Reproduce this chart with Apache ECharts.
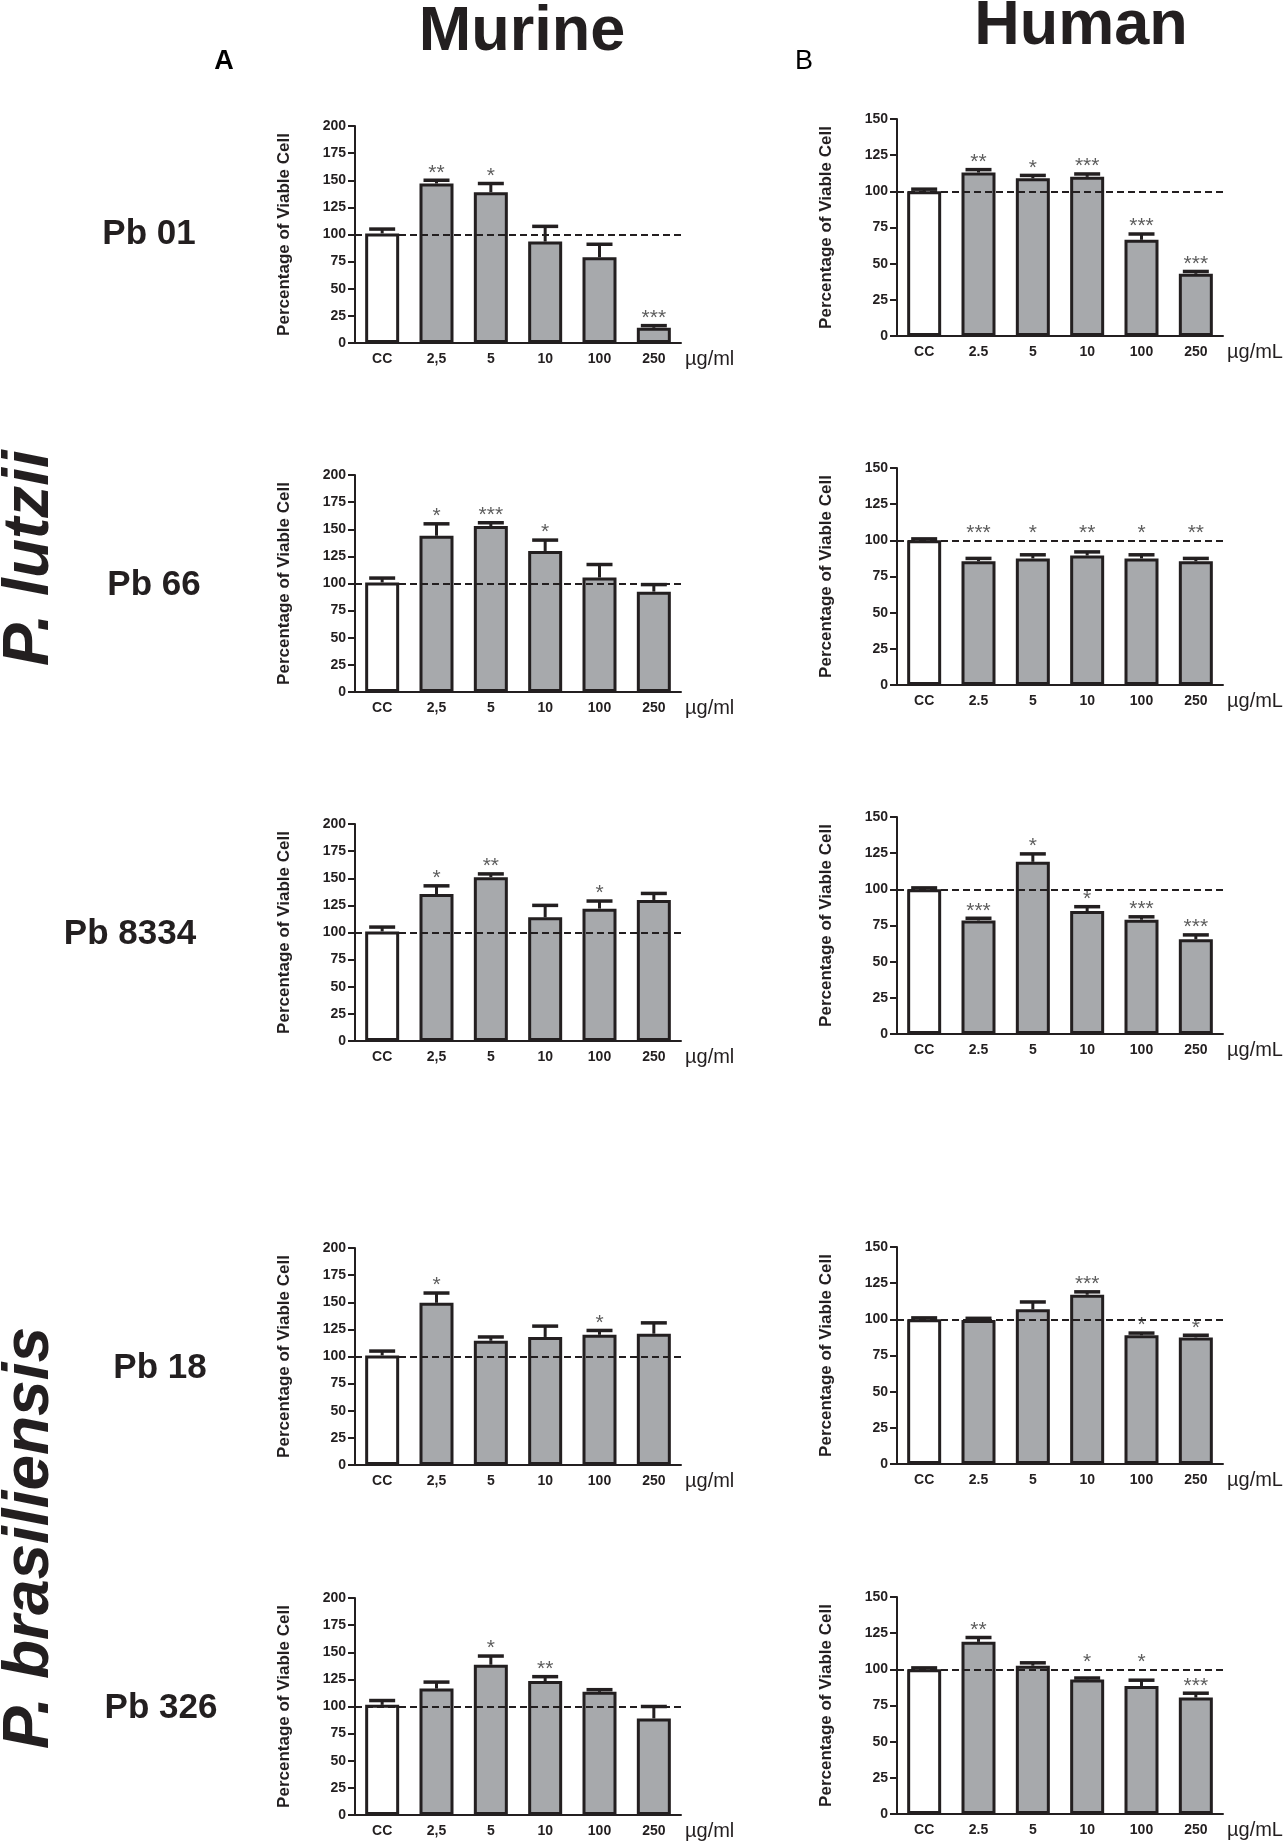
<!DOCTYPE html>
<html lang="en">
<head>
<meta charset="UTF-8">
<title>Percentage of Viable Cell</title>
<style>
  html, body { margin: 0; padding: 0; background: #fff; }
  #main { width: 1286px; height: 1842px; }
</style>
</head>
<body>
<div id="main"></div>
<script src="https://cdn.jsdelivr.net/npm/echarts@6/dist/echarts.min.js"></script>
<script>
// categories
var murineCats = ['CC', '2,5', '5', '10', '100', '250'];
var humanCats = ['CC', '2.5', '5', '10', '100', '250'];
var strains = ['Pb 01', 'Pb 66', 'Pb 8334', 'Pb 18', 'Pb 326'];

// murine macrophages, one row per strain
var murMean = [
  [101, 147, 139, 93.5, 79, 14],
  [101, 144, 153, 130, 105.5, 92.5],
  [101, 135.5, 151, 114, 122, 130],
  [101, 149.5, 114.5, 118, 120, 121],
  [101.5, 116.5, 138.5, 123.5, 113.5, 89]
];
var murSd = [
  [4, 3, 8, 14, 12, 2],
  [4, 11, 3, 10, 12, 6.5],
  [4, 7.5, 3, 11, 7, 6],
  [4, 9, 3.5, 10, 4, 10],
  [4, 6, 8, 4, 2, 11]
];
var murStars = [
  ['', '**', '*', '', '', '***'],
  ['', '*', '***', '*', '', ''],
  ['', '*', '**', '', '*', ''],
  ['', '*', '', '', '*', ''],
  ['', '', '*', '**', '', '']
];

// human cells
var humMean = [
  [100, 113, 109, 110, 66.5, 43],
  [100, 85.5, 87.5, 89.5, 87.5, 85.5],
  [100, 78.5, 119, 85, 79, 65.5],
  [100, 99.5, 107, 117, 89, 87.5],
  [100, 119, 102.5, 93, 88.5, 80.5]
];
var humSd = [
  [1.5, 2, 2, 2, 4, 1.6],
  [1, 2, 2.5, 2.5, 2.5, 2],
  [1, 1.5, 5.5, 3, 2, 3],
  [1, 1.2, 5, 2, 1.5, 1.5],
  [1, 3, 2, 1, 4, 3]
];
var humStars = [
  ['', '**', '*', '***', '***', '***'],
  ['', '***', '*', '**', '*', '**'],
  ['', '***', '*', '*', '***', '***'],
  ['', '', '', '***', '*', '*'],
  ['', '**', '', '*', '*', '***']
];
// stars that sit on the 100% line instead of over the error bar
var humStarOnLine = [[], [1, 2, 3, 4, 5], [], [], [3, 4]];

var murTicks = 200, humTicks = 150, tickStep = 25, refLine = 100;

var INK = '#231f20';
var GREY = '#a7a9ac';
var FONT = 'Liberation Sans, Arial, Helvetica, sans-serif';

// layout
var murLeft = 355, humLeft = 897, plotW = 326, plotH = 217;
var murTop = [126, 475, 824, 1248, 1598];
var humTop = [119, 468, 817, 1247, 1597];
var strainPos = [[149, 234], [154, 585], [130, 934], [160, 1368], [161, 1708]];

var grids = [], xAxes = [], yAxes = [], series = [];

function renderErr(params, api) {
  var i = api.value(0), m = api.value(1), e = api.value(2);
  var base = api.coord([i, m]);
  var tip = api.coord([i, m + e]);
  var half = 13;
  return {
    type: 'group',
    children: [
      {type: 'line', shape: {x1: base[0], y1: base[1], x2: tip[0], y2: tip[1]},
        style: {stroke: INK, lineWidth: 3}},
      {type: 'line', shape: {x1: tip[0] - half, y1: tip[1], x2: tip[0] + half, y2: tip[1]},
        style: {stroke: INK, lineWidth: 3.5}}
    ]
  };
}

function addPanel(left, top, cats, mean, sd, stars, yMax, unit, onLine) {
  var idx = grids.length;
  grids.push({left: left, top: top, width: plotW, height: plotH});
  xAxes.push({
    gridIndex: idx, type: 'category', data: cats,
    axisLine: {lineStyle: {color: INK, width: 2}},
    axisTick: {alignWithLabel: true, length: 5, lineStyle: {color: INK, width: 2}},
    axisLabel: {color: INK, fontWeight: 'bold', fontSize: 14, fontFamily: FONT, margin: 9},
    name: unit, nameLocation: 'end', nameGap: 4,
    nameTextStyle: {color: INK, fontSize: 20, fontFamily: FONT, verticalAlign: 'top', padding: [6, 0, 0, 0]}
  });
  yAxes.push({
    gridIndex: idx, type: 'value', min: 0, max: yMax, interval: tickStep,
    splitLine: {show: false},
    axisLine: {show: true, lineStyle: {color: INK, width: 2}},
    axisTick: {show: true, length: 7, lineStyle: {color: INK, width: 2}},
    axisLabel: {color: INK, fontWeight: 'bold', fontSize: 14, fontFamily: FONT, margin: 9},
    name: 'Percentage of Viable Cell', nameLocation: 'middle', nameRotate: 90, nameGap: 62,
    nameTextStyle: {color: INK, fontWeight: 'bold', fontSize: 17, fontFamily: FONT}
  });
  series.push({
    type: 'bar', xAxisIndex: idx, yAxisIndex: idx, barWidth: 34,
    data: mean.map(function (v, i) {
      return {value: v, itemStyle: {color: i === 0 ? '#ffffff' : GREY}};
    }),
    itemStyle: {borderColor: INK, borderWidth: 3},
    markLine: {
      silent: true, symbol: ['none', 'none'], label: {show: false},
      lineStyle: {type: [7, 4], color: INK, width: 2},
      data: [{yAxis: refLine}]
    }
  });
  series.push({
    type: 'custom', xAxisIndex: idx, yAxisIndex: idx, renderItem: renderErr,
    encode: {x: 0, y: 1},
    data: mean.map(function (v, i) { return [i, v, sd[i]]; }),
    z: 3
  });
  var starData = [];
  stars.forEach(function (s, i) {
    if (!s) return;
    var y = (onLine && onLine.indexOf(i) >= 0) ? refLine : mean[i] + sd[i];
    starData.push({value: [i, y], star: s});
  });
  series.push({
    type: 'scatter', xAxisIndex: idx, yAxisIndex: idx, symbolSize: 0, silent: true,
    data: starData, z: 5,
    label: {
      show: true, position: 'top', distance: -3,
      formatter: function (p) { return p.data.star; },
      color: '#333333', fontSize: 21, fontFamily: FONT
    }
  });
}

for (var r = 0; r < strains.length; r++) {
  addPanel(murLeft, murTop[r], murineCats, murMean[r], murSd[r], murStars[r], murTicks, '\u00b5g/ml', null);
  addPanel(humLeft, humTop[r], humanCats, humMean[r], humSd[r], humStars[r], humTicks, '\u00b5g/mL', humStarOnLine[r]);
}

var graphics = [
  {type: 'text', x: 522, y: 33, style: {text: 'Murine', fill: INK, font: 'bold 63px ' + FONT, align: 'center', verticalAlign: 'middle'}},
  {type: 'text', x: 1081, y: 27, style: {text: 'Human', fill: INK, font: 'bold 63px ' + FONT, align: 'center', verticalAlign: 'middle'}},
  {type: 'text', x: 224, y: 62, style: {text: 'A', fill: '#000', font: 'bold 27px ' + FONT, align: 'center', verticalAlign: 'middle'}},
  {type: 'text', x: 804, y: 62, style: {text: 'B', fill: '#000', font: '27px ' + FONT, align: 'center', verticalAlign: 'middle'}},
  {type: 'text', x: 30, y: 558, rotation: Math.PI / 2, style: {text: 'P. lutzii', fill: INK, font: 'italic bold 64px ' + FONT, align: 'center', verticalAlign: 'middle'}},
  {type: 'text', x: 30, y: 1538, rotation: Math.PI / 2, style: {text: 'P. brasiliensis', fill: INK, font: 'italic bold 64px ' + FONT, align: 'center', verticalAlign: 'middle'}}
];
strains.forEach(function (s, i) {
  graphics.push({type: 'text', x: strainPos[i][0], y: strainPos[i][1],
    style: {text: s, fill: INK, font: 'bold 35px ' + FONT, align: 'center', verticalAlign: 'middle'}});
});

var chart = echarts.init(document.getElementById('main'));
chart.setOption({
  animation: false,
  backgroundColor: '#ffffff',
  grid: grids,
  xAxis: xAxes,
  yAxis: yAxes,
  series: series,
  graphic: graphics
});
</script>
</body>
</html>
